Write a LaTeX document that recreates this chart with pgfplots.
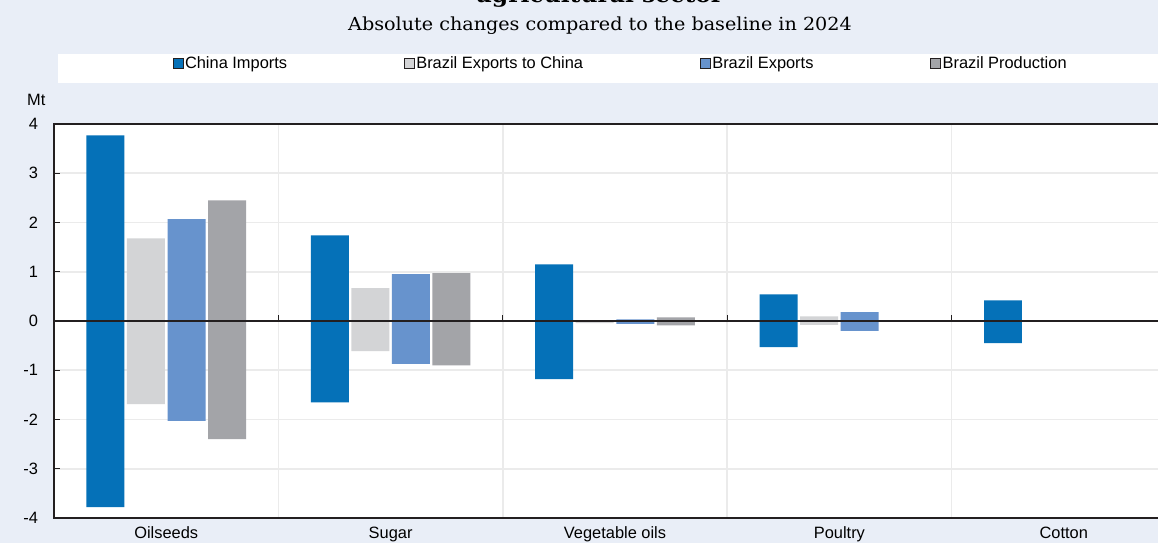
\documentclass[border=0pt]{standalone}
\usepackage{pgfplots}
\pgfplotsset{compat=1.18}
\usepackage{fontspec}
\setmainfont{Liberation Sans}
\newfontfamily\titlefont[FakeStretch=1.065]{DejaVu Serif}
\definecolor{bgc}{HTML}{E9EEF7}
\definecolor{cI}{HTML}{0571B8}
\definecolor{cBC}{HTML}{D3D4D6}
\definecolor{cBE}{HTML}{6793CD}
\definecolor{cBP}{HTML}{A3A4A8}
\definecolor{gridc}{HTML}{EBEBEB}
\definecolor{axc}{HTML}{231F20}
\begin{document}
\begin{tikzpicture}
\useasboundingbox (0pt,0pt) rectangle (1158pt,543pt);
\fill[bgc] (0pt,0pt) rectangle (1158pt,543pt);
\fill[white] (58pt,460pt) rectangle (1160pt,489pt);
\node[font=\titlefont\bfseries\fontsize{22}{24}\selectfont, anchor=base, inner sep=0pt] at (600pt,540.5pt) {agricultural sector};
\node[font=\titlefont\fontsize{18}{20}\selectfont, anchor=base, inner sep=0pt] at (600pt,512.3pt) {Absolute changes compared to the baseline in 2024};
\node[anchor=base west, inner sep=0pt, font=\fontsize{16.4}{18}\selectfont] at (27pt,437pt) {Mt};
\begin{axis}[
  at={(54pt,25pt)}, anchor=south west,
  x=224.4pt, y=49.25pt,
  xmin=-0.5, xmax=4.45, ymin=-4, ymax=4,
  axis background/.style={fill=white},
  axis line style={axc, line width=2.2pt},
  ytick={-4,-3,-2,-1,0,1,2,3,4},
  yticklabels={-4,-3,-2,-1,0,1,2,3,4},
  ytick pos=left, xtick pos=bottom,
  tick align=inside, major tick length=6pt,
  ytick style={axc, line width=0.9pt},
  ymajorgrids, grid style={gridc, line width=1.6pt},
  xtick={0,1,2,3,4},
  xticklabels={Oilseeds,Sugar,Vegetable oils,Poultry,Cotton},
  xtick style={draw=none},
  minor xtick={0.5,1.5,2.5,3.5},
  xminorgrids, minor grid style={gridc, line width=1.6pt},
  minor tick length=0pt,
  yticklabel style={font=\fontsize{16.4}{18}\selectfont, anchor=east, xshift=-12.5pt},
  xticklabel style={font=\fontsize{16.4}{18}\selectfont, anchor=base, yshift=-20.7pt},
  legend columns=4,
  legend entries={China Imports, Brazil Exports to China, Brazil Exports, Brazil Production},
  legend style={at={(0.510,1.1536)}, anchor=center, draw=none, fill=none, inner sep=0pt,
    font=\fontsize{16.4}{18}\selectfont,
    nodes={inner sep=1.5pt},
    /tikz/every even column/.append style={column sep=115.5pt}},
  legend image code/.code={\draw[#1, draw=axc, line width=0.7pt] (0pt,-5pt) rectangle (10pt,5pt);},
]
\addplot[ybar, bar width=0.1693, bar shift=-0.271, fill=cI, draw=none] coordinates {(0,3.77) (1,1.74) (2,1.15) (3,0.54) (4,0.42)};
\addplot[ybar, bar width=0.1693, bar shift=-0.0905, fill=cBC, draw=none] coordinates {(0,1.68) (1,0.665) (2,0.0) (3,0.095)};
\addplot[ybar, bar width=0.1693, bar shift=0.0905, fill=cBE, draw=none] coordinates {(0,2.07) (1,0.95) (2,0.035) (3,0.18)};
\addplot[ybar, bar width=0.1693, bar shift=0.271, fill=cBP, draw=none] coordinates {(0,2.45) (1,0.97) (2,0.075)};
\addplot[ybar, bar width=0.1693, bar shift=-0.271, fill=cI, draw=none, forget plot] coordinates {(0,-3.78) (1,-1.65) (2,-1.18) (3,-0.53) (4,-0.45)};
\addplot[ybar, bar width=0.1693, bar shift=-0.0905, fill=cBC, draw=none, forget plot] coordinates {(0,-1.69) (1,-0.61) (2,-0.045) (3,-0.08)};
\addplot[ybar, bar width=0.1693, bar shift=0.0905, fill=cBE, draw=none, forget plot] coordinates {(0,-2.03) (1,-0.87) (2,-0.06) (3,-0.20)};
\addplot[ybar, bar width=0.1693, bar shift=0.271, fill=cBP, draw=none, forget plot] coordinates {(0,-2.40) (1,-0.90) (2,-0.09)};
\draw[axc, line width=2pt] (axis cs:-0.5,0) -- (axis cs:4.45,0);
\draw[axc, line width=1pt] (axis cs:0.5,0) -- ++(0pt,6pt);
\draw[axc, line width=1pt] (axis cs:1.5,0) -- ++(0pt,6pt);
\draw[axc, line width=1pt] (axis cs:2.5,0) -- ++(0pt,6pt);
\draw[axc, line width=1pt] (axis cs:3.5,0) -- ++(0pt,6pt);
\end{axis}
\end{tikzpicture}
\end{document}
